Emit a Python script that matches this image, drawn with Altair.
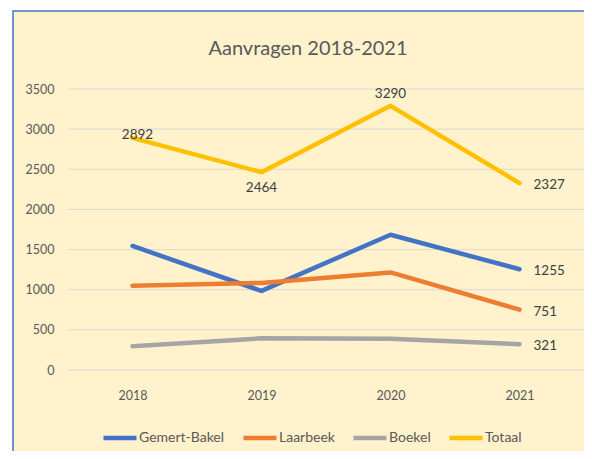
import altair as alt
import pandas as pd

years = ["2018", "2019", "2020", "2021"]
series = ["Gemert-Bakel", "Laarbeek", "Boekel", "Totaal"]
gemert_bakel = [1545, 985, 1685, 1255]
laarbeek = [1050, 1085, 1215, 751]
boekel = [297, 394, 390, 321]
totaal = [2892, 2464, 3290, 2327]
colors = ["#4472C4", "#ED7D31", "#A5A5A5", "#FFC000"]
y_ticks = [0, 500, 1000, 1500, 2000, 2500, 3000, 3500]
title_text = "Aanvragen 2018-2021"

FONT = "Lato, Open Sans, sans-serif"
W, H = 516, 281

rows = []
for name, vals in zip(series, [gemert_bakel, laarbeek, boekel, totaal]):
    for yr, v in zip(years, vals):
        rows.append({"series": name, "year": yr, "value": v})
df = pd.DataFrame(rows)
grid_df = pd.DataFrame({"tick": y_ticks})

yscale = alt.Scale(domain=[0, 3500], nice=False, zero=True)
xscale = alt.Scale(type="point", padding=0.5, domain=years)
yaxis = alt.Axis(values=y_ticks, format="d", grid=False, domain=False, ticks=False,
                 labelPadding=14, labelFontSize=12.5, labelFont=FONT, labelColor="#595959",
                 title=None, zindex=1)
xaxis = alt.Axis(labelAngle=0, domain=False, ticks=False, grid=False, labelPadding=19,
                 labelFontSize=12.5, labelFont=FONT, labelColor="#595959", title=None, zindex=1)

frame = alt.Chart(alt.Data(values=[{}])).mark_rect(
    fill="#FFF2CC", stroke="#4472C4", strokeWidth=1.5
).encode(
    x=alt.value(-55), x2=alt.value(W + 60), y=alt.value(-78), y2=alt.value(H + 120)
)

grid = alt.Chart(grid_df).mark_rule(color="#D9D9D9", strokeWidth=1).encode(
    y=alt.Y("tick:Q", scale=yscale, axis=yaxis),
    x=alt.value(0), x2=alt.value(W),
)

base = alt.Chart(df)

lines = base.mark_line(strokeWidth=4.5, strokeCap="round", strokeJoin="round").encode(
    x=alt.X("year:O", scale=xscale, axis=xaxis),
    y=alt.Y("value:Q", scale=yscale, axis=yaxis),
    color=alt.Color("series:N", scale=alt.Scale(domain=series, range=colors),
                    legend=alt.Legend(title=None, orient="none", direction="horizontal",
                                      legendX=33, legendY=330,
                                      symbolType="stroke", symbolSize=1089,
                                      symbolStrokeWidth=4.5, labelFont=FONT,
                                      labelFontSize=14, labelColor="#595959",
                                      labelOffset=0, columnPadding=9)),
)

def labels(filt, **kw):
    return base.mark_text(font=FONT, fontSize=13.5, color="#404040", **kw).encode(
        x=alt.X("year:O", scale=xscale),
        y=alt.Y("value:Q", scale=yscale),
        text=alt.Text("value:Q"),
    ).transform_filter(filt)

lab_2018 = labels((alt.datum.series == "Totaal") & (alt.datum.year == "2018"),
                  align="center", baseline="middle", dx=5, dy=-3)
lab_2019 = labels((alt.datum.series == "Totaal") & (alt.datum.year == "2019"),
                  align="center", baseline="middle", dy=16)
lab_2020 = labels((alt.datum.series == "Totaal") & (alt.datum.year == "2020"),
                  align="center", baseline="middle", dy=-12)
lab_2021 = labels(alt.datum.year == "2021", align="left", baseline="middle", dx=14, dy=2)

chart = alt.layer(frame, grid, lines, lab_2018, lab_2019, lab_2020, lab_2021).properties(
    width=W, height=H,
    title=alt.TitleParams(title_text, font=FONT, fontSize=20, fontWeight="normal",
                          color="#595959", anchor="middle", frame="group",
                          baseline="alphabetic", dx=-18, dy=65, offset=0),
    autosize=alt.AutoSizeParams(type="none"),
    padding={"left": 60, "top": 81, "right": 0, "bottom": 81},
    background="white",
).configure_view(stroke=None)

chart.save("out.html", embed_options={"renderer": "svg", "actions": False})
